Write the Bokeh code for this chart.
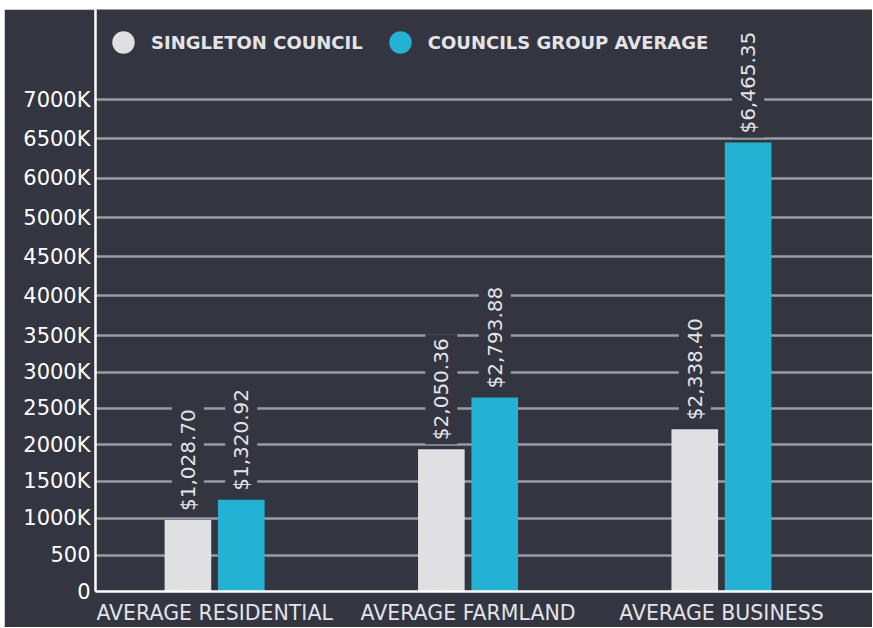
from math import pi
from bokeh.plotting import figure
from bokeh.layouts import column, row
from bokeh.models import ColumnDataSource, Range1d, FixedTicker, Legend, LegendItem, Spacer
from bokeh.core.properties import value
from bokeh.transform import dodge
from bokeh.embed import file_html
from bokeh.resources import INLINE

# ---- data ----
categories = ["AVERAGE RESIDENTIAL", "AVERAGE FARMLAND", "AVERAGE BUSINESS"]
singleton_council = [1028.70, 2050.36, 2338.40]
councils_group_average = [1320.92, 2793.88, 6465.35]
series_names = ["SINGLETON COUNCIL", "COUNCILS GROUP AVERAGE"]
y_tick_values = [0, 524, 1058, 1585, 2114, 2637, 3161, 3684, 4256, 4823, 5385, 5951, 6519, 7085]
y_tick_labels = ["0", "500", "1000K", "1500K", "2000K", "2500K", "3000K", "3500K",
                 "4000K", "4500K", "5000K", "6000K", "6500K", "7000K"]

# ---- style ----
BG = "#333640"
GRAY = "#e0e0e2"
BLUE = "#23b1d4"
TXT = "#e4e4e7"
GRID = "#9b9ca1"

x_pos = list(range(1, len(categories) + 1))
src = ColumnDataSource(dict(
    x=x_pos,
    s=singleton_council,
    g=councils_group_average,
    s_lbl=["${:,.2f}".format(v) for v in singleton_council],
    g_lbl=["${:,.2f}".format(v) for v in councils_group_average],
))

p = figure(width=868, height=618, output_backend="svg", toolbar_location=None,
           x_range=Range1d(0.53, 3.596), y_range=Range1d(0, 8382),
           min_border_left=91, min_border_right=0, min_border_top=0, min_border_bottom=36)

p.background_fill_color = BG
p.border_fill_color = BG
p.outline_line_color = None

off = 0.1053
bw = 0.184
p.vbar(x=dodge("x", -off), top="s", width=bw, source=src, color=GRAY, line_color=None)
p.vbar(x=dodge("x", off), top="g", width=bw, source=src, color=BLUE, line_color=None)

common = dict(angle=pi / 2, text_align="left", text_baseline="middle",
              text_color=TXT, text_font=value("DejaVu Sans"), text_font_size="20px",
              y_offset=-5, background_fill_color=BG, padding=4)
p.text(x=dodge("x", -off), y="s", text="s_lbl", source=src, **common)
p.text(x=dodge("x", off), y="g", text="g_lbl", source=src, **common)

# legend (circle markers); NaN point is never drawn in the plot area
nan = float("nan")
r1 = p.scatter(x=[nan], y=[nan], marker="circle", size=22, color=GRAY, line_color=None)
r2 = p.scatter(x=[nan], y=[nan], marker="circle", size=22, color=BLUE, line_color=None)
legend = Legend(items=[LegendItem(label=series_names[0], renderers=[r1]),
                       LegendItem(label=series_names[1], renderers=[r2])],
                orientation="horizontal", location="top_left",
                glyph_width=56, glyph_height=66, label_standoff=-6, spacing=9,
                padding=6, margin=0, background_fill_alpha=0, border_line_color=None,
                label_text_color=TXT, label_text_font="DejaVu Sans",
                label_text_font_size="18px", label_text_font_style="bold")
p.add_layout(legend)

# axes
p.yaxis.ticker = FixedTicker(ticks=y_tick_values)
p.yaxis.major_label_overrides = {v: l for v, l in zip(y_tick_values, y_tick_labels)}
p.yaxis.axis_line_color = "white"
p.yaxis.axis_line_width = 2.5
p.yaxis.major_tick_line_color = None
p.yaxis.major_tick_in = 0
p.yaxis.major_tick_out = 0
p.yaxis.minor_tick_line_color = None
p.yaxis.major_label_standoff = 5
p.yaxis.major_label_text_color = "white"
p.yaxis.major_label_text_font = "DejaVu Sans"
p.yaxis.major_label_text_font_size = "21px"

p.xaxis.ticker = FixedTicker(ticks=x_pos)
p.xaxis.major_label_overrides = {v: c for v, c in zip(x_pos, categories)}
p.xaxis.axis_line_color = "white"
p.xaxis.axis_line_width = 2.5
p.xaxis.major_tick_line_color = None
p.xaxis.major_tick_in = 0
p.xaxis.major_tick_out = 0
p.xaxis.minor_tick_line_color = None
p.xaxis.major_label_standoff = 9
p.xaxis.major_label_text_color = TXT
p.xaxis.major_label_text_font = "DejaVu Sans"
p.xaxis.major_label_text_font_size = "20.5px"

p.xgrid.grid_line_color = None
p.ygrid.grid_line_color = GRID
p.ygrid.grid_line_width = 2.5

layout = column(Spacer(width=872, height=9),
                row(Spacer(width=4, height=618), p),
                spacing=0)

open("out.html", "w").write(file_html(layout, INLINE))
